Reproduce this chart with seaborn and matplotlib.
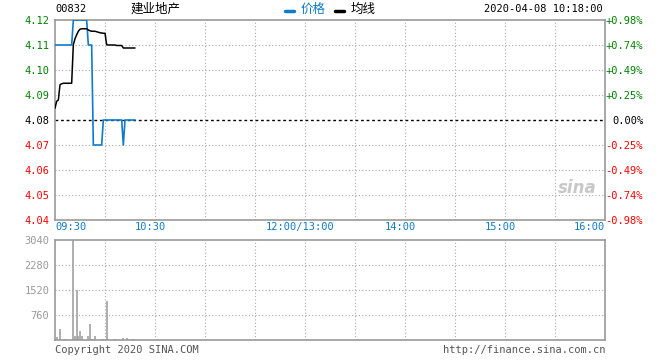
import numpy as np
import matplotlib
matplotlib.use("Agg")
import matplotlib.pyplot as plt
from matplotlib.lines import Line2D
import seaborn as sns

# 00832 intraday 2020-04-08, one value per minute from 09:30 to 10:18
price = [4.11, 4.11, 4.11, 4.11, 4.11, 4.11, 4.11, 4.11, 4.11, 4.11, 4.11,
         4.12, 4.12, 4.12, 4.12, 4.12, 4.12, 4.12, 4.12, 4.12,
         4.11, 4.11, 4.11,
         4.07, 4.07, 4.07, 4.07, 4.07, 4.07,
         4.08, 4.08, 4.08, 4.08, 4.08, 4.08, 4.08, 4.08, 4.08, 4.08, 4.08, 4.08,
         4.07,
         4.08, 4.08, 4.08, 4.08, 4.08, 4.08, 4.08]
avg = [4.0847, 4.0875, 4.0880, 4.0941, 4.0945, 4.0947, 4.0947, 4.0947, 4.0947, 4.0947, 4.0947,
       4.1101, 4.1125, 4.1141, 4.1155, 4.1163, 4.1165, 4.1165, 4.1165, 4.1165,
       4.1160, 4.1157, 4.1155, 4.1155, 4.1155, 4.1153, 4.1151, 4.1149, 4.1148, 4.1147, 4.1147,
       4.1101, 4.1100, 4.1100, 4.1100, 4.1100, 4.1100, 4.1098, 4.1098, 4.1098, 4.1098,
       4.1088, 4.1088, 4.1088, 4.1088, 4.1088, 4.1088, 4.1088, 4.1088]
vol_minute = [1, 3, 6, 11, 12, 13, 14, 15, 16, 20, 21, 22, 24, 29, 31, 36, 41, 43, 47]
volume = [100, 345, 30, 3040, 130, 1520, 130, 285, 130, 130, 497, 30, 130, 30, 1196, 30, 70, 70, 30]

prev_close = 4.08
price_ticks = [4.04, 4.05, 4.06, 4.07, 4.08, 4.09, 4.10, 4.11, 4.12]
pct_labels = ["-0.98%", "-0.74%", "-0.49%", "-0.25%", "0.00%", "+0.25%", "+0.49%", "+0.74%", "+0.98%"]
vol_ticks = [760, 1520, 2280, 3040]
time_pos = [0, 60, 150, 210, 270, 330]
time_labels = ["09:30", "10:30", "12:00/13:00", "14:00", "15:00", "16:00"]

minutes = np.arange(len(price))

sns.set_theme(style="white")
plt.rcParams["font.family"] = ["DejaVu Sans Mono", "Noto Sans CJK SC"]

BLUE = "#0f7bcc"
GREEN = "#008000"
RED = "#ff0000"
GRID = "#aaaaaa"
BORDER = "#999999"
W, H = 660, 360

fig = plt.figure(figsize=(6.6, 3.6), dpi=100)
ax = fig.add_axes([55 / W, 1 - 220 / H, 550 / W, 200 / H])
axv = fig.add_axes([55 / W, 1 - 340 / H, 550 / W, 100 / H])


def frame(a):
    for s in a.spines.values():
        s.set_visible(True)
        s.set_color(BORDER)
        s.set_linewidth(1.2)
    a.set_xlim(0, 330)
    for m in range(30, 330, 30):
        a.axvline(m, color=GRID, lw=0.8, ls=(0, (1, 2)), zorder=0)
    a.tick_params(length=0)


# price panel
frame(ax)
ax.set_ylim(4.04, 4.12)
for p in price_ticks[1:-1]:
    if p == prev_close:
        ax.axhline(p, color="black", lw=1, ls=(0, (2, 2)), zorder=1)
    else:
        ax.axhline(p, color=GRID, lw=0.8, ls=(0, (1, 2)), zorder=0)
sns.lineplot(x=minutes, y=price, ax=ax, color=BLUE, lw=1.2, zorder=3)
sns.lineplot(x=minutes, y=avg, ax=ax, color="black", lw=1.1, zorder=4)
ax.set_xticks([])
ax.set_yticks(price_ticks)
ax.set_yticklabels([f"{p:.2f}" for p in price_ticks], fontsize=7.5)
ax.tick_params(axis="y", pad=4)
for p, lab in zip(price_ticks, ax.get_yticklabels()):
    lab.set_color(GREEN if p > prev_close else (RED if p < prev_close else "black"))
ax.set_xlabel("")
ax.set_ylabel("")

# percent change axis, right-aligned labels
ax2 = ax.twinx()
ax2.set_ylim(4.04, 4.12)
ax2.set_yticks(price_ticks)
ax2.set_yticklabels(pct_labels, fontsize=7.5, ha="right")
ax2.tick_params(axis="y", length=0, pad=27.5)
for s in ax2.spines.values():
    s.set_visible(False)
for p, lab in zip(price_ticks, ax2.get_yticklabels()):
    lab.set_color(GREEN if p > prev_close else (RED if p < prev_close else "black"))

# sina watermark
ax.text(0.985, 0.16, "sina", transform=ax.transAxes, ha="right", va="center",
        fontsize=12, fontstyle="italic", fontweight="bold", color="#c8c8c8",
        family="DejaVu Sans", zorder=0)

# time labels
for pos, lab in zip(time_pos, time_labels):
    ha = "left" if pos == 0 else ("right" if pos == 330 else "center")
    off = 0 if pos in (0, 330) else -3
    ax.text(pos + off, -0.012, lab, transform=ax.get_xaxis_transform(), ha=ha, va="top",
            fontsize=7.5, color=BLUE)

# volume panel
frame(axv)
axv.set_ylim(0, 3040)
for v in vol_ticks[:-1]:
    axv.axhline(v, color=GRID, lw=0.8, ls=(0, (1, 2)), zorder=0)
axv.vlines(vol_minute, 0, volume, color="#999999", lw=1.1, zorder=2)
axv.set_xticks([])
axv.set_yticks(vol_ticks)
axv.set_yticklabels([str(v) for v in vol_ticks], fontsize=7.5, color="#999999")
axv.tick_params(axis="y", pad=4)

# header
fig.text(55 / W, 1 - 9 / H, "00832", fontsize=7.5, va="center", ha="left", color="black")
fig.text(131 / W, 1 - 9 / H, "建业地产", fontsize=9, va="center", ha="left",
         family="Noto Sans CJK SC", color="black")
fig.add_artist(Line2D([285 / W, 294 / W], [1 - 11 / H] * 2, color=BLUE, lw=2.5))
fig.text(301 / W, 1 - 9 / H, "价格", fontsize=9, va="center", ha="left",
         family="Noto Sans CJK SC", color=BLUE)
fig.add_artist(Line2D([335 / W, 344 / W], [1 - 11 / H] * 2, color="black", lw=2.5))
fig.text(351 / W, 1 - 9 / H, "均线", fontsize=9, va="center", ha="left",
         family="Noto Sans CJK SC", color="black")
fig.text(603 / W, 1 - 9 / H, "2020-04-08 10:18:00", fontsize=7.5, va="center", ha="right",
         color="black")

# footer
fig.text(55 / W, 1 - 350 / H, "Copyright 2020 SINA.COM", fontsize=7.5, va="center",
         ha="left", color="#555555")
fig.text(605 / W, 1 - 350 / H, "http://finance.sina.com.cn", fontsize=7.5, va="center",
         ha="right", color="#555555")

fig.savefig("out.png", dpi=100, facecolor="white")
